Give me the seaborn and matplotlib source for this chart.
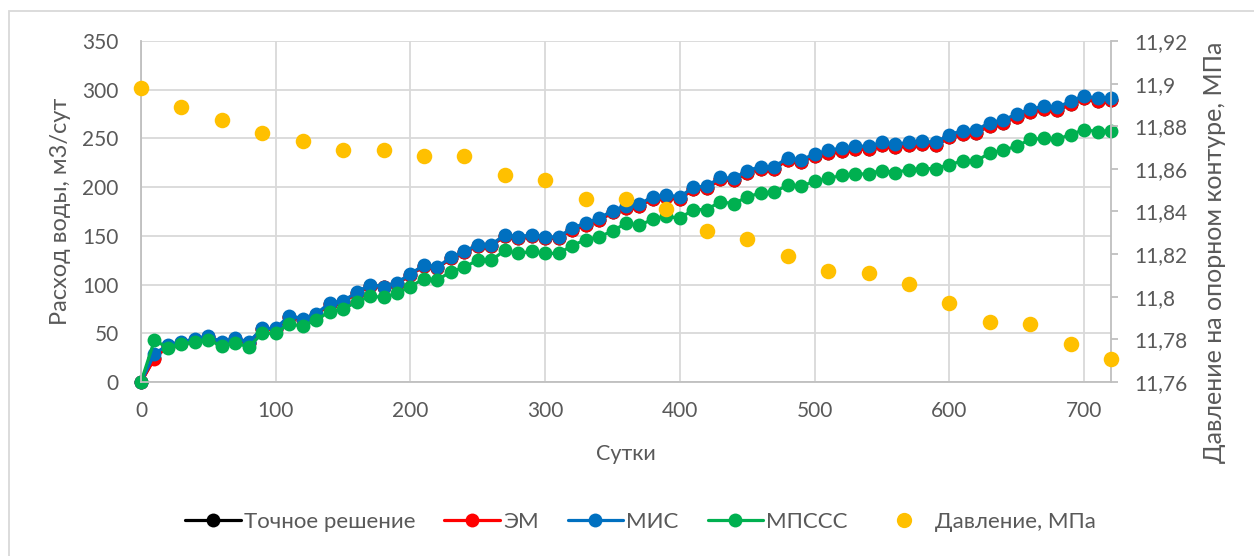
import matplotlib
matplotlib.use("Agg")
import matplotlib.pyplot as plt
import matplotlib.patches as mpatches
from matplotlib.ticker import MultipleLocator, FuncFormatter
from matplotlib.lines import Line2D
import seaborn as sns

# Time axis, days
days = list(range(0, 721, 10))

# Water flow rate, m3/day
exact = [0, 25, 37, 40, 43, 46, 40, 44, 40, 54, 54, 67, 64, 69, 80, 82, 91, 99, 97, 101,
         110, 119, 117, 127, 133, 140, 140, 150, 148, 150, 148, 148, 156, 161, 166, 174,
         179, 181, 188, 190, 188, 198, 199, 208, 207, 215, 219, 219, 228, 226, 232, 235,
         237, 239, 239, 243, 241, 243, 244, 243, 251, 255, 256, 263, 266, 272, 277, 280,
         279, 285, 291, 288, 289]
em = [0, 24, 37, 40, 43, 46, 40, 44, 40, 54, 54, 67, 64, 69, 80, 82, 91, 99, 97, 101,
      110, 119, 117, 127, 133, 140, 140, 150, 148, 150, 148, 148, 156, 161, 166, 174,
      179, 181, 188, 190, 188, 198, 199, 208, 207, 215, 219, 219, 228, 226, 232, 235,
      237, 239, 239, 243, 241, 243, 244, 243, 251, 255, 256, 263, 266, 272, 277, 280,
      279, 285, 291, 288, 289]
mis = [0, 29, 38, 41, 44, 47, 41, 45, 41, 55, 55, 68, 65, 70, 81, 83, 92, 100, 98, 102,
       111, 120, 118, 128, 134, 141, 141, 151, 149, 151, 149, 149, 158, 163, 168, 176,
       181, 183, 190, 192, 190, 200, 201, 210, 209, 217, 221, 221, 230, 228, 234, 238,
       240, 242, 242, 246, 244, 246, 247, 246, 254, 258, 259, 266, 269, 275, 280, 283,
       282, 288, 294, 291, 292]
mpsss = [0, 43, 35, 39, 41, 43, 37, 40, 36, 50, 50, 60, 57, 64, 72, 75, 82, 88, 87, 91,
         98, 106, 105, 113, 118, 125, 125, 135, 132, 134, 132, 132, 140, 146, 149, 155,
         163, 161, 167, 170, 168, 177, 177, 185, 183, 190, 194, 195, 202, 201, 206, 209,
         212, 213, 214, 217, 215, 218, 219, 219, 223, 227, 227, 235, 238, 242, 249, 250,
         249, 254, 259, 257, 258]

# Pressure on the reference contour, MPa
p_days = list(range(0, 721, 30))
pressure = [11.898, 11.889, 11.883, 11.877, 11.873, 11.869, 11.869, 11.866, 11.866,
            11.857, 11.855, 11.846, 11.846, 11.841, 11.831, 11.827, 11.819, 11.812,
            11.811, 11.806, 11.797, 11.788, 11.787, 11.778, 11.771]

series = [
    ("Точное решение", exact, "#000000"),
    ("ЭМ", em, "#FF0000"),
    ("МИС", mis, "#0070C0"),
    ("МПССС", mpsss, "#00B050"),
]
p_label = "Давление, МПа"
p_color = "#FFC000"

sns.set_style("white")
plt.rcParams["font.family"] = ["Lato", "DejaVu Sans"]
text_color = "#595959"
grid_color = "#D9D9D9"
fs = 15

fig = plt.figure(figsize=(12.54, 5.56), dpi=100)
ax = fig.add_axes([141 / 1254, 1 - 382 / 556, 970 / 1254, 341 / 556])

for name, vals, col in series:
    sns.lineplot(x=days, y=vals, ax=ax, color=col, linewidth=2.3, marker="o",
                 markersize=10, markeredgewidth=0, label=name, legend=False,
                 clip_on=False)

ax.set_xlim(0, 720)
ax.set_ylim(0, 350)
ax.xaxis.set_major_locator(MultipleLocator(100))
ax.yaxis.set_major_locator(MultipleLocator(50))
ax.grid(True, color=grid_color, linewidth=1.3)
ax.set_axisbelow(True)
for s in ["top", "right"]:
    ax.spines[s].set_visible(False)
for s in ["left", "bottom"]:
    ax.spines[s].set_color("#BFBFBF")
    ax.spines[s].set_linewidth(1.3)
ax.tick_params(axis="both", length=0, labelsize=fs, labelcolor=text_color)
ax.tick_params(axis="x", pad=14)
ax.tick_params(axis="y", pad=16)
ax.set_xlabel("Сутки", fontsize=15.5, color=text_color, labelpad=16)
ax.set_ylabel("Расход воды, м3/сут", fontsize=17, color=text_color, labelpad=8)

ax2 = ax.twinx()
sns.scatterplot(x=p_days, y=pressure, ax=ax2, color=p_color, s=125, linewidth=0,
                label=p_label, legend=False, zorder=5, clip_on=False)
ax2.set_ylim(11.76, 11.92)
ax2.yaxis.set_major_locator(MultipleLocator(0.02))
ax2.yaxis.set_major_formatter(FuncFormatter(lambda v, _: f"{v:.2f}".rstrip("0").replace(".", ",")))
for s in ["top", "left", "bottom"]:
    ax2.spines[s].set_visible(False)
ax2.spines["right"].set_color("#BFBFBF")
ax2.spines["right"].set_linewidth(1.3)
ax2.tick_params(axis="y", direction="out", length=5, width=1.3, color="#BFBFBF",
                labelsize=fs, labelcolor=text_color, pad=11.5)
ax2.set_ylabel("Давление на опорном контуре, МПа", fontsize=18, color=text_color)
ax2.yaxis.set_label_coords(1.095, 0.381)
ax2.grid(False)

handles = [Line2D([0], [0], color=col, linewidth=2.3, marker="o", markersize=10,
                  markeredgewidth=0) for _, _, col in series]
handles.append(Line2D([0], [0], linestyle="none", marker="o", markersize=11,
                      markerfacecolor=p_color, markeredgewidth=0))
labels = [name for name, _, _ in series] + [p_label]
fig.legend(handles, labels, loc="center", bbox_to_anchor=(0.511, 1 - 522 / 556),
           ncol=5, frameon=False, fontsize=16, labelcolor=text_color,
           handlelength=2.5, handletextpad=0.14, columnspacing=1.3)

# Chart area border
fig.patches.append(mpatches.Rectangle((9 / 1254, -0.1), 1.2, (556 - 11) / 556 + 0.1,
                                      transform=fig.transFigure, fill=False,
                                      edgecolor=grid_color, linewidth=1.3))

fig.savefig("out.png", dpi=100)
